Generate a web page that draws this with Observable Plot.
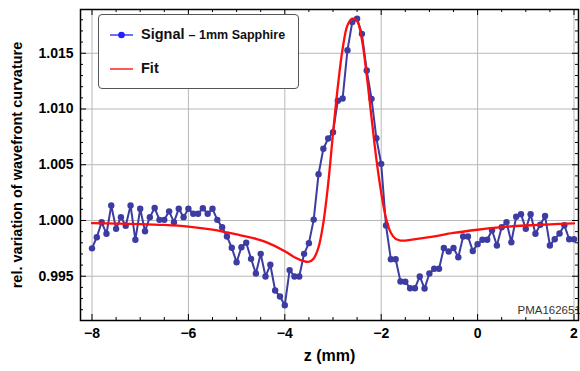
<!DOCTYPE html>
<html><head><meta charset="utf-8">
<script src="https://cdn.jsdelivr.net/npm/d3@7"></script>
<script src="https://cdn.jsdelivr.net/npm/@observablehq/plot@0.6"></script>
<style>
body{margin:0;background:#fff;font-family:"Liberation Sans",Arial,sans-serif;}
#wrap{position:relative;width:580px;height:371px;overflow:hidden;}
.legend{position:absolute;left:98px;top:14px;width:201px;height:75px;border:1.3px solid #555;border-radius:4px;background:#fff;box-sizing:border-box;}
.sw{position:absolute;left:11px;}
.lab{position:absolute;left:42px;white-space:nowrap;font-weight:bold;font-size:14.5px;color:#111;}
.sub{font-size:12.5px;}
</style>
</head><body>
<div id="wrap"></div>
<script>
// z positions (mm)
const z = [-8.0,-7.9,-7.8,-7.7,-7.6,-7.5,-7.4,-7.3,-7.2,-7.1,-7.0,-6.9,-6.8,-6.7,-6.6,-6.5,-6.4,-6.3,-6.2,-6.1,
-6.0,-5.9,-5.8,-5.7,-5.6,-5.5,-5.4,-5.3,-5.2,-5.1,-5.0,-4.9,-4.8,-4.7,-4.6,-4.5,-4.4,-4.3,-4.2,-4.1,
-4.0,-3.9,-3.8,-3.7,-3.6,-3.5,-3.4,-3.3,-3.2,-3.1,-3.0,-2.9,-2.8,-2.7,-2.6,-2.5,-2.4,-2.3,-2.2,-2.1,
-2.0,-1.9,-1.8,-1.7,-1.6,-1.5,-1.4,-1.3,-1.2,-1.1,-1.0,-0.9,-0.8,-0.7,-0.6,-0.5,-0.4,-0.3,-0.2,-0.1,
0.0,0.1,0.2,0.3,0.4,0.5,0.6,0.7,0.8,0.9,1.0,1.1,1.2,1.3,1.4,1.5,1.6,1.7,1.8,1.9,2.0];
// Signal – 1mm Sapphire
const signalValues = [0.99750,0.99850,0.99985,0.99881,1.00135,0.99925,1.00030,0.99953,1.00135,0.99827,
1.00105,0.99904,1.00030,1.00112,1.00006,1.00006,1.00082,0.99985,1.00105,1.00030,
1.00105,1.00060,1.00060,1.00110,1.00060,1.00105,1.00006,0.99940,0.99857,0.99755,
0.99626,0.99760,0.99800,0.99656,0.99525,0.99701,0.99498,0.99603,0.99372,0.99318,
0.99240,0.99555,0.99498,0.99498,0.99701,0.99797,1.00008,1.00415,1.00643,1.00735,
1.00792,1.01075,1.01094,1.01528,1.01780,1.01810,1.01674,1.01345,1.01091,1.00738,
1.00508,0.99955,0.99653,0.99653,0.99453,0.99450,0.99393,0.99393,0.99498,0.99390,
0.99525,0.99567,0.99567,0.99753,0.99722,0.99753,0.99671,0.99857,0.99857,0.99727,
0.99788,0.99827,0.99827,0.99912,0.99776,0.99940,0.99985,0.99805,1.00033,1.00057,
0.99925,1.00057,0.99881,0.99962,1.00040,0.99776,0.99832,0.99884,0.99958,0.99832,0.99832];
// Fit
const fitZ = [-8.0,-7.0,-6.5,-6.0,-5.5,-5.2,-5.0,-4.6,-4.4,-4.0,-3.8,-3.6,-3.5,-3.4,-3.3,-3.2,-3.1,-3.0,-2.9,-2.8,-2.7,-2.6,-2.5,-2.4,-2.3,-2.2,-2.1,-2.0,-1.9,-1.8,-1.7,-1.6,-1.5,-1.0,-0.5,0.0,0.5,1.0,1.5,2.0];
const fitValues = [0.99976,0.99968,0.99960,0.99945,0.99918,0.99893,0.99875,0.99836,0.99808,0.99725,0.99670,0.99635,0.99630,0.99660,0.99760,0.99980,1.00330,1.00780,1.01200,1.01540,1.01750,1.01810,1.01790,1.01620,1.01300,1.00920,1.00550,1.00250,1.00020,0.99890,0.99835,0.99820,0.99820,0.99850,0.99888,0.99917,0.99940,0.99955,0.99966,0.99975];
// ticks
const xMajor = [-8,-6,-4,-2,0,2];
const xMinor = [-7.5,-7,-6.5,-5.5,-5,-4.5,-3.5,-3,-2.5,-1.5,-1,-0.5,0.5,1,1.5];
const yMajor = [0.995,1.000,1.005,1.010,1.015];
const yMinor = [0.992,0.993,0.994,0.996,0.997,0.998,0.999,1.001,1.002,1.003,1.004,1.006,1.007,1.008,1.009,1.011,1.012,1.013,1.014,1.016,1.017,1.018];
const xTitle = "z (mm)";
const yTitle = "rel. variation of wavefront curvature";

const sigColor = "#3c3ca2";
const fitColor = "#ff0d0d";
const W = 580, H = 371, mL = 80, mR = 2, mT = 9, mB = 51;
const fw = W - mL - mR, fh = H - mT - mB;

const signal = z.map((d, i) => ({z: d, v: signalValues[i]}));
const fit = fitZ.map((d, i) => ({z: d, v: fitValues[i]}));

const chart = Plot.plot({
  width: W, height: H,
  marginLeft: mL, marginRight: mR, marginTop: mT, marginBottom: mB,
  style: {fontFamily: "'Liberation Sans', Arial, sans-serif", fontSize: "13px", fontWeight: "bold", background: "#fff", color: "#000"},
  x: {domain: [-8.2386, 2.0934]},
  y: {domain: [0.991031, 1.018924]},
  marks: [
    Plot.gridX(xMajor, {stroke: "#b8b8b8", strokeOpacity: 1, strokeWidth: 1}),
    Plot.gridY(yMajor, {stroke: "#b8b8b8", strokeOpacity: 1, strokeWidth: 1}),
    Plot.ruleX(xMajor, {x: d => d, insetTop: fh - 6, stroke: "#000"}),
    Plot.ruleX(xMajor, {x: d => d, insetBottom: fh - 6, stroke: "#000"}),
    Plot.ruleX(xMinor, {x: d => d, insetTop: fh - 3, stroke: "#000"}),
    Plot.ruleX(xMinor, {x: d => d, insetBottom: fh - 3, stroke: "#000"}),
    Plot.ruleY(yMajor, {y: d => d, insetRight: fw - 6, stroke: "#000"}),
    Plot.ruleY(yMajor, {y: d => d, insetLeft: fw - 6, stroke: "#000"}),
    Plot.ruleY(yMinor, {y: d => d, insetRight: fw - 3, stroke: "#000"}),
    Plot.ruleY(yMinor, {y: d => d, insetLeft: fw - 3, stroke: "#000"}),
    Plot.line(signal, {x: "z", y: "v", stroke: sigColor, strokeWidth: 2}),
    Plot.dot(signal, {x: "z", y: "v", r: 3.2, fill: sigColor}),
    Plot.line(fit, {x: "z", y: "v", stroke: fitColor, strokeWidth: 2.3, curve: "catmull-rom"}),
    Plot.text(["PMA162651"], {frameAnchor: "bottom-right", text: d => d, dx: -61, dy: -7, textAnchor: "start", fontWeight: "normal", fontSize: 11.5, fill: "#333"}),
    Plot.axisX(xMajor, {tickSize: 0, tickPadding: 8, fontSize: 14, label: null}),
    Plot.axisY(yMajor, {tickSize: 0, tickPadding: 7, fontSize: 14, tickFormat: d3.format(".3f"), label: null}),
    Plot.text([xTitle], {frameAnchor: "bottom", text: d => d, dy: 40, fontSize: 16, fontWeight: "bold", fill: "#000"}),
    Plot.text([yTitle], {frameAnchor: "left", text: d => d, dx: -63, rotate: -90, textAnchor: "middle", fontSize: 14.5, fontWeight: "bold", fill: "#000"}),
    Plot.frame({stroke: "#000", strokeWidth: 1.5})
  ]
});
const wrap = document.getElementById("wrap");
wrap.appendChild(chart);

// legend
const lg = document.createElement("div");
lg.className = "legend";
lg.innerHTML = `
  <svg class="sw" style="top:14px" width="24" height="12"><line x1="0" y1="6" x2="23" y2="6" stroke="#1f1fff" stroke-width="1.3"/><circle cx="11.5" cy="6" r="3.3" fill="#1f1fff"/></svg>
  <div class="lab" style="top:11px">Signal <span class="sub">– 1mm Sapphire</span></div>
  <svg class="sw" style="top:48px" width="24" height="12"><line x1="0" y1="6" x2="23" y2="6" stroke="#ff3030" stroke-width="1.6"/></svg>
  <div class="lab" style="top:45px">Fit</div>`;
wrap.appendChild(lg);
</script>
</body></html>
